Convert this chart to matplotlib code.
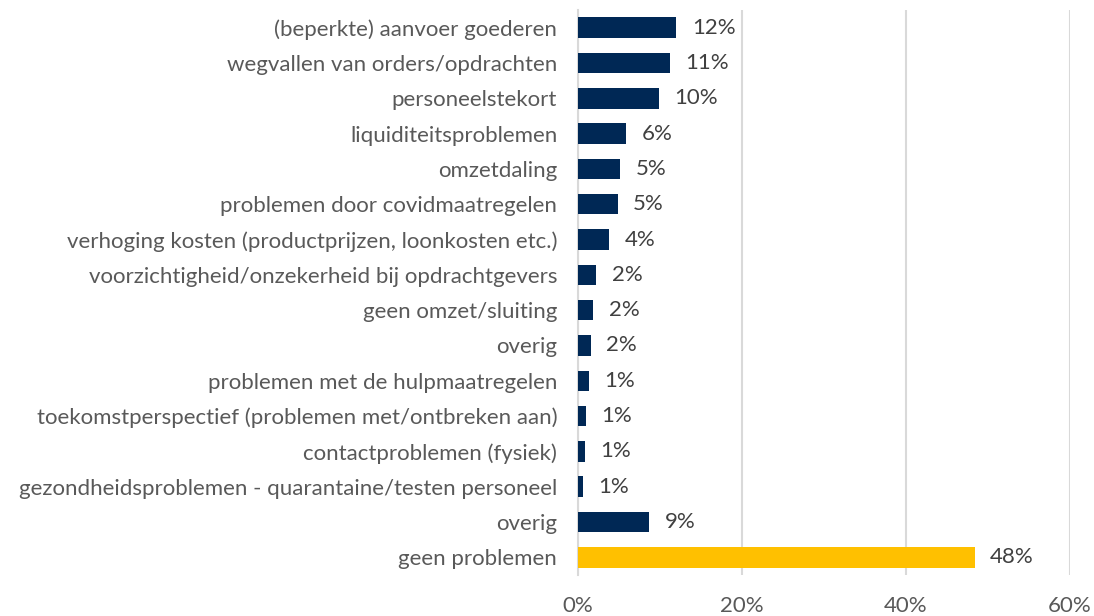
import matplotlib
matplotlib.use("Agg")
import matplotlib.pyplot as plt
from matplotlib.ticker import FuncFormatter

categories = [
    "(beperkte) aanvoer goederen",
    "wegvallen van orders/opdrachten",
    "personeelstekort",
    "liquiditeitsproblemen",
    "omzetdaling",
    "problemen door covidmaatregelen",
    "verhoging kosten (productprijzen, loonkosten etc.)",
    "voorzichtigheid/onzekerheid bij opdrachtgevers",
    "geen omzet/sluiting",
    "overig",
    "problemen met de hulpmaatregelen",
    "toekomstperspectief (problemen met/ontbreken aan)",
    "contactproblemen (fysiek)",
    "gezondheidsproblemen - quarantaine/testen personeel",
    "overig",
    "geen problemen",
]
values = [11.99, 11.2, 9.88, 5.85, 5.12, 4.84, 3.82, 2.2, 1.83, 1.55, 1.3, 0.94, 0.81, 0.61, 8.66, 48.37]
value_labels = ["12%", "11%", "10%", "6%", "5%", "5%", "4%", "2%", "2%", "2%",
                "1%", "1%", "1%", "1%", "9%", "48%"]
x_ticks = [0, 20, 40, 60]

NAVY = "#002855"
GOLD = "#FFC000"
TEXT = "#595959"

plt.rcParams["font.family"] = ["Lato", "DejaVu Sans"]

fig = plt.figure(figsize=(10.94, 6.16), dpi=100)
ax = fig.add_axes([578 / 1094, 1 - 575 / 616, 492 / 1094, 565 / 616])

pos = list(range(len(categories)))
colors = [NAVY] * (len(categories) - 1) + [GOLD]
ax.barh(pos, values, height=0.58, color=colors, zorder=3)

for p, v, lab in zip(pos, values, value_labels):
    ax.text(v + 1.9, p, lab, va="center", ha="left", fontsize=16, color="#404040")

ax.set_yticks(pos)
ax.set_yticklabels(categories, fontsize=16, color=TEXT)
ax.set_ylim(len(categories) - 0.5, -0.5)
ax.set_xlim(0, 60)
ax.set_xticks(x_ticks)
ax.xaxis.set_major_formatter(FuncFormatter(lambda x, _: f"{x:.0f}%"))
ax.tick_params(axis="x", labelsize=16, colors=TEXT, length=0, pad=15)
ax.tick_params(axis="y", length=0, pad=15)
ax.grid(axis="x", color="#d9d9d9", linewidth=1.5, zorder=0)
for side in ["top", "right", "bottom"]:
    ax.spines[side].set_visible(False)
ax.spines["left"].set_color("#d9d9d9")
ax.spines["left"].set_linewidth(1.5)

fig.savefig("out.png", dpi=100)
